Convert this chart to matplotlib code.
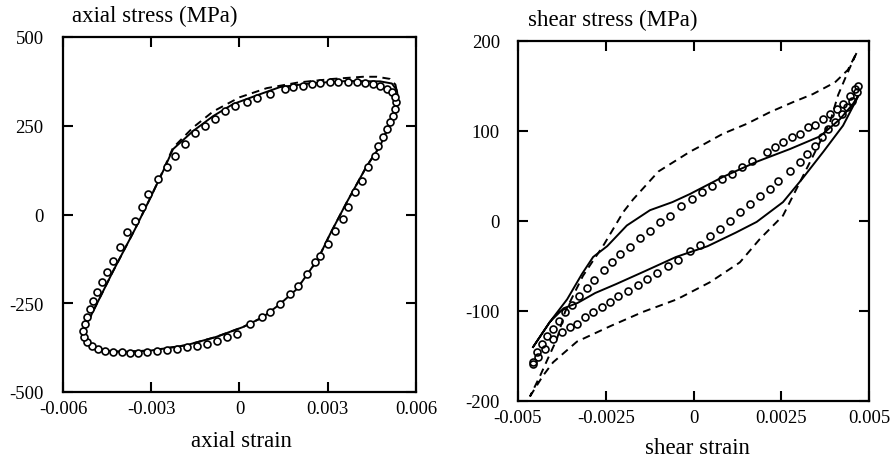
import matplotlib
matplotlib.use("Agg")
import matplotlib.pyplot as plt

plt.rcParams["font.family"] = ["Liberation Serif", "DejaVu Serif"]
plt.rcParams["axes.unicode_minus"] = False

# ---- left panel: axial stress vs axial strain ----
axial_exp_strain = [
    0.00532, 0.00528, 0.00522, 0.00511, 0.00501, 0.00488, 0.00471, 0.00461, 0.00437, 0.00416,
    0.00393, 0.00369, 0.00352, 0.00325, 0.00301, 0.00274, 0.00257, 0.00229, 0.00199, 0.00172,
    0.00138, 0.00104, 0.00076, 0.00036, -0.00009, -0.00043, -0.00077, -0.00111, -0.00145, -0.00179,
    -0.00213, -0.00247, -0.00281, -0.00314, -0.00345, -0.00372, -0.00400, -0.00430, -0.00457, -0.00481,
    -0.00501, -0.00518, -0.00529, -0.00532, -0.00525, -0.00518, -0.00508, -0.00498, -0.00484, -0.00467,
    -0.00450, -0.00430, -0.00406, -0.00382, -0.00355, -0.00331, -0.00311, -0.00277, -0.00247, -0.00219,
    -0.00185, -0.00151, -0.00117, -0.00083, -0.00049, -0.00015, 0.00025, 0.00059, 0.00104, 0.00155,
    0.00182, 0.00216, 0.00246, 0.00274, 0.00308, 0.00335, 0.00369, 0.00399, 0.00427, 0.00454,
    0.00478, 0.00501, 0.00518, 0.00528,
]
axial_exp_stress = [
    317, 297, 277, 261, 241, 218, 193, 165, 134, 94,
    63, 21, -13, -46, -83, -117, -134, -168, -201, -224,
    -252, -275, -289, -308, -337, -345, -356, -365, -370, -373,
    -379, -382, -385, -387, -390, -390, -387, -387, -385, -379,
    -370, -359, -345, -328, -308, -289, -266, -244, -218, -190,
    -162, -131, -92, -49, -18, 21, 58, 100, 134, 165,
    199, 230, 249, 269, 292, 306, 317, 328, 339, 354,
    359, 362, 368, 370, 373, 373, 373, 373, 370, 368,
    362, 354, 345, 331,
]

axial_model1_strain = [
    -0.00535, -0.00525, -0.00508, -0.00430, -0.00355, -0.00300, -0.00262, -0.00226, -0.00158, -0.00090,
    -0.00022, 0.00070, 0.00138, 0.00250, 0.00365, 0.00478, 0.00518, 0.00535, 0.00539, 0.00522,
    0.00478, 0.00433, 0.00365, 0.00308, 0.00267, 0.00195, 0.00138, 0.00080, 0.00012, -0.00080,
    -0.00180, -0.00300, -0.00400, -0.00460, -0.00500, -0.00525, -0.00535,
]
axial_model1_stress = [
    -335, -310, -290, -160, -41, 52, 118, 184, 235, 277,
    311, 339, 359, 370, 376, 375, 369, 350, 325, 277,
    193, 137, 35, -55, -125, -210, -252, -289, -317, -345,
    -368, -383, -387, -383, -370, -355, -335,
]

axial_model2_strain = [
    -0.00535, -0.00525, -0.00508, -0.00430, -0.00355, -0.00300, -0.00262, -0.00226, -0.00158, -0.00090,
    0.00000, 0.00093, 0.00200, 0.00318, 0.00420, 0.00467, 0.00511, 0.00530, 0.00539, 0.00522,
    0.00478, 0.00433, 0.00365, 0.00308, 0.00267, 0.00195, 0.00138, 0.00080, 0.00012, -0.00080,
    -0.00180, -0.00300, -0.00400, -0.00460, -0.00500, -0.00525, -0.00535,
]
axial_model2_stress = [
    -335, -310, -290, -160, -41, 52, 120, 188, 245, 290,
    330, 356, 372, 382, 388, 388, 382, 366, 330, 277,
    193, 137, 35, -55, -125, -210, -252, -289, -317, -345,
    -368, -383, -387, -383, -370, -355, -335,
]

axial_xticks = [-0.006, -0.003, 0, 0.003, 0.006]
axial_xticklabels = ["-0.006", "-0.003", "0", "0.003", "0.006"]
axial_yticks = [-500, -250, 0, 250, 500]
axial_yticklabels = ["-500", "-250", "0", "250", "500"]

# ---- right panel: shear stress vs shear strain ----
shear_exp_up_strain = [
    0.00469, 0.00460, 0.00446, 0.00426, 0.00409, 0.00389, 0.00369, 0.00346, 0.00326, 0.00303,
    0.00281, 0.00255, 0.00232, 0.00209, 0.00167, 0.00138, 0.00110, 0.00081, 0.00053, 0.00024,
    -0.00004, -0.00036, -0.00067, -0.00095, -0.00124, -0.00152, -0.00181, -0.00209, -0.00232, -0.00255,
    -0.00283, -0.00303, -0.00326, -0.00346, -0.00366, -0.00383, -0.00400, -0.00417, -0.00432, -0.00446,
    -0.00457,
]
shear_exp_up_stress = [
    150, 147, 139, 130, 124, 119, 113, 107, 104, 97,
    93, 88, 82, 77, 67, 60, 52, 47, 39, 32,
    24, 17, 6, -1, -11, -19, -29, -37, -46, -54,
    -66, -74, -83, -93, -101, -111, -120, -128, -137, -146,
    -157,
]
shear_exp_low_strain = [
    -0.00457, -0.00443, -0.00423, -0.00400, -0.00375, -0.00352, -0.00332, -0.00309, -0.00286, -0.00261,
    -0.00238, -0.00215, -0.00187, -0.00158, -0.00132, -0.00104, -0.00073, -0.00044, -0.00010, 0.00019,
    0.00047, 0.00075, 0.00104, 0.00132, 0.00161, 0.00189, 0.00218, 0.00241, 0.00275, 0.00303,
    0.00323, 0.00346, 0.00366, 0.00383, 0.00403, 0.00423, 0.00437, 0.00452, 0.00466,
]
shear_exp_low_stress = [
    -159, -151, -142, -131, -123, -118, -114, -107, -101, -96,
    -90, -83, -78, -71, -64, -58, -50, -43, -33, -27,
    -17, -9, 0, 10, 19, 28, 36, 44, 56, 66,
    74, 83, 93, 102, 110, 119, 127, 133, 143,
]

shear_model1_strain = [
    -0.00457, -0.00409, -0.00370, -0.00330, -0.00280, -0.00220, -0.00140, -0.00050, 0.00040, 0.00120,
    0.00180, 0.00255, 0.00310, 0.00370, 0.00426, 0.00466, 0.00469, 0.00454, 0.00417, 0.00360,
    0.00275, 0.00181, 0.00084, -0.00010, -0.00060, -0.00124, -0.00190, -0.00246, -0.00286, -0.00318,
    -0.00360, -0.00409, -0.00457,
]
shear_model1_stress = [
    -140, -112, -97, -91, -80, -70, -56, -40, -28, -13,
    -1, 21, 47, 77, 106, 136, 139, 130, 113, 94,
    80, 66, 49, 30, 21, 12, -5, -28, -40, -59,
    -87, -112, -140,
]

shear_model2_strain = [
    -0.00466, -0.00429, -0.00400, -0.00332, -0.00238, -0.00144, -0.00047, 0.00047, 0.00132, 0.00189,
    0.00255, 0.00312, 0.00389, 0.00412, 0.00437, 0.00466, 0.00440, 0.00403, 0.00340, 0.00283,
    0.00218, 0.00152, 0.00084, 0.00019, -0.00010, -0.00100, -0.00172, -0.00200, -0.00229, -0.00258,
    -0.00286, -0.00315, -0.00338, -0.00366, -0.00389, -0.00415, -0.00437, -0.00466,
]
shear_model2_stress = [
    -195, -172, -157, -134, -117, -101, -87, -68, -46, -20,
    6, 50, 110, 140, 163, 188, 168, 154, 141, 132,
    121, 108, 97, 83, 77, 55, 24, 10, -9, -28,
    -44, -61, -79, -101, -131, -153, -172, -195,
]

shear_xticks = [-0.005, -0.0025, 0, 0.0025, 0.005]
shear_xticklabels = ["-0.005", "-0.0025", "0", "0.0025", "0.005"]
shear_yticks = [-200, -100, 0, 100, 200]
shear_yticklabels = ["-200", "-100", "0", "100", "200"]


def style_axes(ax, xticks, xlabels, yticks, ylabels, ypad):
    ax.set_xlim(xticks[0], xticks[-1])
    ax.set_ylim(yticks[0], yticks[-1])
    ax.set_xticks(xticks)
    ax.set_xticklabels(xlabels)
    ax.set_yticks(yticks)
    ax.set_yticklabels(ylabels)
    ax.tick_params(direction="in", top=True, right=True, length=7, width=1.5,
                   labelsize=13.5, color="black")
    ax.tick_params(axis="x", pad=6)
    ax.tick_params(axis="y", pad=ypad)
    for s in ax.spines.values():
        s.set_linewidth(1.6)


def draw_loop(ax, sx, sy, dx, dy):
    ax.plot(dx, dy, color="black", lw=1.4, ls=(0, (4, 2.8)))
    ax.plot(sx, sy, color="black", lw=1.4)


fig = plt.figure(figsize=(8.92, 4.64), dpi=100)
W, H = 892.0, 464.0

ax1 = fig.add_axes([63 / W, 1 - 393 / H, 353 / W, 355 / H])
draw_loop(ax1, axial_model1_strain, axial_model1_stress, axial_model2_strain, axial_model2_stress)
ax1.plot(axial_exp_strain, axial_exp_stress, "o", mfc="white", mec="black", ms=5, mew=1.2)
style_axes(ax1, axial_xticks, axial_xticklabels, axial_yticks, axial_yticklabels, 14)

ax2 = fig.add_axes([518 / W, 1 - 402 / H, 351 / W, 360 / H])
draw_loop(ax2, shear_model1_strain, shear_model1_stress, shear_model2_strain, shear_model2_stress)
ax2.plot(shear_exp_up_strain, shear_exp_up_stress, "o", mfc="none", mec="black", ms=5, mew=1.2)
ax2.plot(shear_exp_low_strain, shear_exp_low_stress, "o", mfc="none", mec="black", ms=5, mew=1.2)
style_axes(ax2, shear_xticks, shear_xticklabels, shear_yticks, shear_yticklabels, 13)

fig.text(72 / W, 1 - 22 / H, "axial stress (MPa)", fontsize=16.5, va="baseline", ha="left")
fig.text(528 / W, 1 - 26 / H, "shear stress (MPa)", fontsize=16.5, va="baseline", ha="left")
fig.text(241 / W, 1 - 447 / H, "axial strain", fontsize=16.5, va="baseline", ha="center")
fig.text(697 / W, 1 - 454 / H, "shear strain", fontsize=16.5, va="baseline", ha="center")

fig.savefig("out.png", dpi=100)
